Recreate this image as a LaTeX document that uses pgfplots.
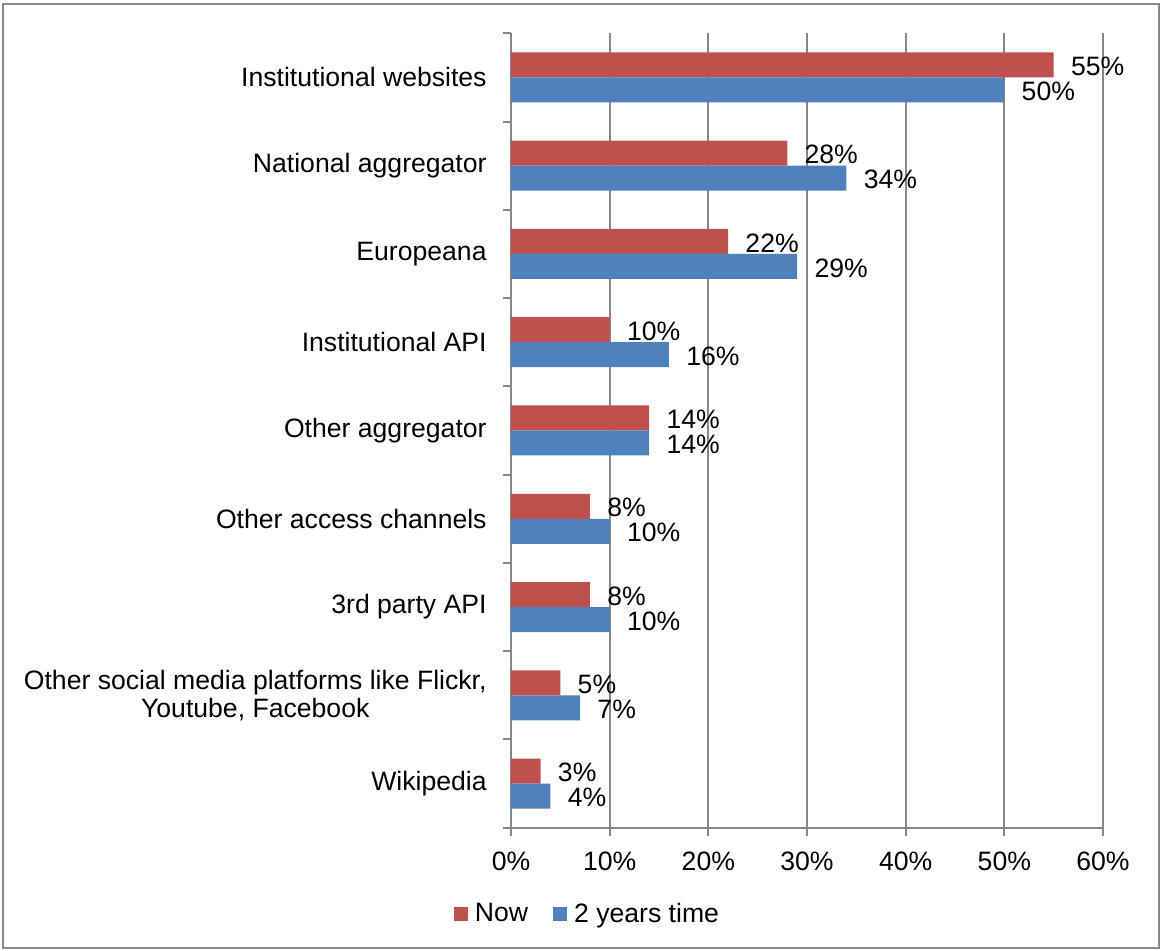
\documentclass[border=0pt]{standalone}
\usepackage{fontspec}
\setmainfont{Liberation Sans}
\usepackage{pgfplots}
\pgfplotsset{compat=1.18}
\definecolor{exred}{HTML}{C0504D}
\definecolor{exblue}{HTML}{4F81BD}
\definecolor{gridgray}{HTML}{878787}
\begin{document}
\begin{tikzpicture}[font=\fontsize{13.3}{14}\selectfont]
\useasboundingbox (-255.5pt,-61.65pt) rectangle (324.5pt,413.85pt);
\draw[gridgray,line width=0.7pt] (-254pt,-60.15pt) rectangle (324pt,411.85pt);
\begin{axis}[
  scale only axis,
  width=296pt, height=397.2pt,
  xbar, bar width=12.5pt,
  xmin=0, xmax=60, ymin=-0.5, ymax=8.5,
  xtick={0,10,20,30,40,50,60},
  xticklabels={0\%,10\%,20\%,30\%,40\%,50\%,60\%},
  ytick={0,1,2,3,4,5,6,7,8},
  yticklabels={Wikipedia,{Other social media platforms like Flickr,\\Youtube, Facebook},3rd party API,Other access channels,Other aggregator,Institutional API,Europeana,National aggregator,Institutional websites},
  minor ytick={-0.5,0.5,...,8.5},
  axis x line*=bottom, axis y line*=left,
  axis line style={gridgray,line width=1pt},
  tick align=outside,
  major tick length=4pt, minor tick length=4pt,
  every tick/.style={gridgray,line width=1pt},
  every major y tick/.append style={draw=none},
  xmajorgrids, grid style={gridgray,line width=1pt},
  yticklabel style={align=center, inner sep=0pt, xshift=-8pt},
  xticklabel style={inner sep=0pt, yshift=-8pt},
  point meta=x,
  nodes near coords={\pgfmathprintnumber[assume math mode=true]{\pgfplotspointmeta}\%},
  every node near coord/.append style={anchor=west, inner sep=0pt, xshift=8.5pt, yshift=-0.75pt, text=black},
  legend style={at={(0.1275,-0.1086)}, anchor=center, draw=none, legend columns=2,
     nodes={inner sep=0pt},
     /tikz/every odd column/.append style={column sep=3.5pt},
     /tikz/every even column/.append style={column sep=12.5pt}},
  legend cell align=left,
]
\addplot[fill=exred, draw=none, bar shift=6.25pt,
  legend image code/.code={\fill[exred] (0pt,-3.5pt) rectangle (7pt,3.5pt);}]
  coordinates {(3,0) (5,1) (8,2) (8,3) (14,4) (10,5) (22,6) (28,7) (55,8)};
\addlegendentry{Now}
\addplot[fill=exblue, draw=none, bar shift=-6.25pt,
  legend image code/.code={\fill[exblue] (0pt,-3.5pt) rectangle (7pt,3.5pt);}]
  coordinates {(4,0) (7,1) (10,2) (10,3) (14,4) (16,5) (29,6) (34,7) (50,8)};
\addlegendentry{2 years time}
\end{axis}
\end{tikzpicture}
\end{document}
